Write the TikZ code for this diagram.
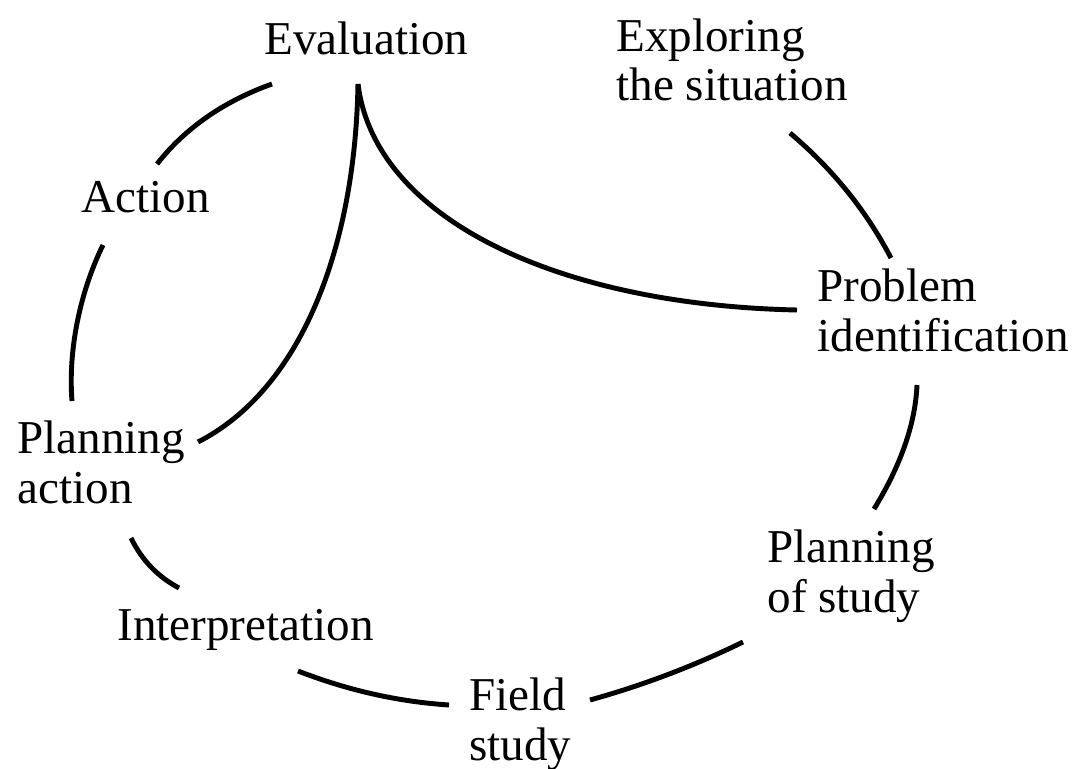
\documentclass[tikz,border=0pt]{standalone}
\usepackage{fontspec}
\setmainfont{Liberation Serif}

\begin{document}
\begin{tikzpicture}[x=0.2mm, y=-0.2mm, line width=2.8pt,
    stage/.style={anchor=base west, inner sep=0pt, align=left,
                  font=\fontsize{26.8}{28}\selectfont}]
    % ================= Canvas =================
    \path[use as bounding box] (0,0) rectangle (1075,769);

    % ================= Stages (anchored at last baseline) =================
    \node[stage] (Eval)      at (262,55)  {Evaluation};
    \node[stage] (Explore)   at (614,101) {Exploring\\the situation};
    \node[stage] (Problem)   at (815,351) {Problem\\identification};
    \node[stage] (PlanStudy) at (765,612) {Planning\\of study};
    \node[stage] (Field)     at (467,760) {Field\\study};
    \node[stage] (Interp)    at (115,640) {Interpretation};
    \node[stage] (PlanAct)   at (15,503)  {Planning\\action};
    \node[stage] (Action)    at (79,213)  {Action};

    % ================= Arc end points =================
    \coordinate (Cusp)      at (358,84);
    \coordinate (Eval_w)    at (272,84);
    \coordinate (Action_n)  at (157,164);
    \coordinate (Action_s)  at (103,245);
    \coordinate (PlanAct_n) at (72,401);
    \coordinate (PlanAct_e) at (198,442);
    \coordinate (PlanAct_s) at (131,538);
    \coordinate (Interp_n)  at (179,588);
    \coordinate (Interp_s)  at (298,671);
    \coordinate (Field_w)   at (449,705);
    \coordinate (Field_e)   at (590,700);
    \coordinate (Study_w)   at (743,642);
    \coordinate (Study_n)   at (874,509);
    \coordinate (Problem_s) at (917,385);
    \coordinate (Problem_n) at (891,258);
    \coordinate (Problem_w) at (797,310);
    \coordinate (Explore_s) at (790,133);

    % ================= Outer cycle =================
    \draw (Eval_w) .. controls (223.7,101.3) and (185.3,128) .. (Action_n);
    \draw (Action_s) .. controls (80,292) and (68,350) .. (PlanAct_n);
    \draw (PlanAct_s) .. controls (141.7,560) and (157.7,576.7) .. (Interp_n);
    \draw (Interp_s) .. controls (347.7,690.3) and (398,701.7) .. (Field_w);
    \draw (Field_e) .. controls (643,685.3) and (694,666) .. (Study_w);
    \draw (Study_n) .. controls (901,465) and (915.3,423.7) .. (Problem_s);
    \draw (Problem_n) .. controls (866,210.3) and (832.3,168.7) .. (Explore_s);

    % ================= Inner loops from Evaluation =================
    \draw (Cusp) .. controls (375,220) and (560,305) .. (Problem_w);
    \draw (Cusp) .. controls (355,250) and (300,390) .. (PlanAct_e);

\end{tikzpicture}
\end{document}
